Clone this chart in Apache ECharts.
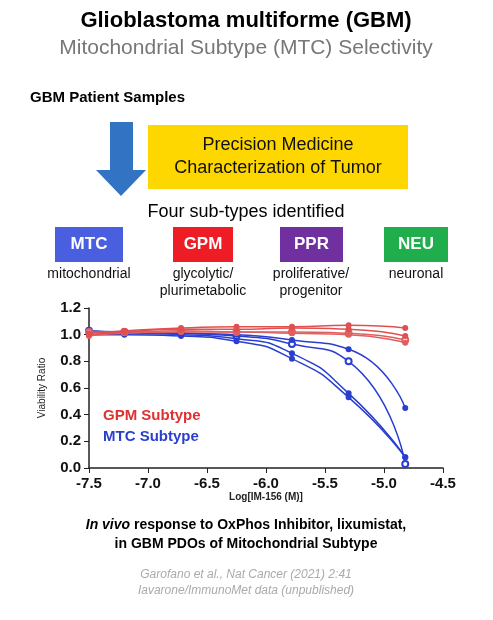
<!DOCTYPE html><html><head><meta charset="utf-8"><script src="https://cdn.jsdelivr.net/npm/echarts@6/dist/echarts.min.js"></script>
<style>body{margin:0;background:#fff}#c{width:493px;height:620px}</style></head><body><div id="c"></div><script>
const doses=[-7.5,-7.2,-6.72,-6.25,-5.78,-5.3,-4.82];
const mtc1=[1.0,1.0,0.99,0.95,0.82,0.53,0.08];
const mtc2=[1.02,1.01,1.0,0.97,0.86,0.56,0.08];
const mtc3=[1.03,1.02,1.01,0.99,0.93,0.80,0.03];
const mtc4=[1.02,1.02,1.01,1.0,0.96,0.89,0.45];
const gpm1=[1.01,1.03,1.05,1.06,1.06,1.07,1.05];
const gpm2=[1.0,1.02,1.04,1.04,1.05,1.04,0.99];
const gpm3=[1.02,1.02,1.03,1.02,1.02,1.01,0.96];
const gpm4=[0.99,1.01,1.02,1.02,1.01,1.0,0.94];
const xTicks=[-7.5,-7.0,-6.5,-6.0,-5.5,-5.0,-4.5];
const mk=(d,c,sym)=>({type:'line',data:doses.map((x,i)=>[x,d[i]]),smooth:0.6,symbol:sym,symbolSize:6,lineStyle:{color:c,width:1.5},itemStyle:{color:c},z:c==='#e05050'?3:2});
const ch=echarts.init(document.getElementById('c'));
const box=(x,w,col,t)=>[{type:'rect',shape:{x:x,y:227,width:w,height:35},style:{fill:col}},{type:'text',x:x+w/2,y:244,style:{text:t,fill:'#fff',font:'bold 17px Arial',align:'center',verticalAlign:'middle'}}];
const lbl=(x,t)=>({type:'text',x:x,y:266,style:{text:t,fill:'#111',font:'14px Arial',align:'center',lineHeight:17}});
ch.setOption({animation:false,
grid:{left:89,right:50,top:308,bottom:152},
xAxis:{type:'value',min:-7.5,max:-4.5,interval:0.5,name:'Log[IM-156 (M)]',nameLocation:'middle',nameGap:24,nameTextStyle:{fontSize:10,color:'#222',fontWeight:'bold'},axisLine:{lineStyle:{color:'#222',width:1.5}},axisTick:{lineStyle:{color:'#222'}},splitLine:{show:false},axisLabel:{color:'#111',fontSize:15,fontWeight:'bold',formatter:v=>v.toFixed(1)}},
yAxis:{type:'value',min:0,max:1.2,interval:0.2,name:'Viability Ratio',nameLocation:'middle',nameGap:42,nameTextStyle:{fontSize:10,color:'#222'},axisLine:{show:true,lineStyle:{color:'#222',width:1.5}},axisTick:{show:true},splitLine:{show:false},axisLabel:{color:'#111',fontSize:15,fontWeight:'bold',formatter:v=>v.toFixed(1)}},
series:[mk(mtc1,'#2a3fd0','circle'),mk(mtc2,'#2a3fd0','circle'),mk(mtc3,'#2a3fd0','emptyCircle'),mk(mtc4,'#2a3fd0','circle'),mk(gpm1,'#e05050','circle'),mk(gpm2,'#e05050','circle'),mk(gpm3,'#e06060','emptyCircle'),mk(gpm4,'#e06060','circle')],
graphic:[
{type:'text',x:246,y:10,style:{text:'Glioblastoma multiforme (GBM)',font:'bold 22px Arial',fill:'#000',align:'center'}},
{type:'text',x:246,y:38,style:{text:'Mitochondrial Subtype (MTC) Selectivity',font:'21px Arial',fill:'#777',align:'center'}},
{type:'text',x:30,y:90,style:{text:'GBM Patient Samples',font:'bold 15px Arial',fill:'#000'}},
{type:'polygon',shape:{points:[[110,122],[133,122],[133,170],[146,170],[121,196],[96,170],[110,170]]},style:{fill:'#3373c4'}},
{type:'rect',shape:{x:148,y:125,width:260,height:64},style:{fill:'#ffd700'}},
{type:'text',x:278,y:157,style:{text:'Precision Medicine\nCharacterization of Tumor',font:'18px Arial',fill:'#111',align:'center',verticalAlign:'middle',lineHeight:23}},
{type:'text',x:246,y:203,style:{text:'Four sub-types identified',font:'18px Arial',fill:'#000',align:'center'}},
...box(55,68,'#4a5fe0','MTC'),...box(173,60,'#ee1c25','GPM'),...box(280,63,'#7030a0','PPR'),...box(384,64,'#1fae4b','NEU'),
lbl(89,'mitochondrial'),lbl(203,'glycolytic/\nplurimetabolic'),lbl(311,'proliferative/\nprogenitor'),lbl(416,'neuronal'),
{type:'text',x:103,y:408,style:{text:'GPM Subtype',font:'bold 15px Arial',fill:'#e03030'}},
{type:'text',x:103,y:429,style:{text:'MTC Subtype',font:'bold 15px Arial',fill:'#2a3fd0'}},
{type:'text',x:246,y:518,style:{text:'{i|In vivo} response to OxPhos Inhibitor, lixumistat,',rich:{i:{font:'bold italic 14px Arial',fill:'#000'}},font:'bold 14px Arial',fill:'#000',align:'center'}},
{type:'text',x:246,y:537,style:{text:'in GBM PDOs of Mitochondrial Subtype',font:'bold 14px Arial',fill:'#000',align:'center'}},
{type:'text',x:246,y:567,style:{text:'Garofano et al., Nat Cancer (2021) 2:41\nIavarone/ImmunoMet data (unpublished)',font:'italic 12px Arial',fill:'#aaa',align:'center',lineHeight:16}}
]});
</script></body></html>
